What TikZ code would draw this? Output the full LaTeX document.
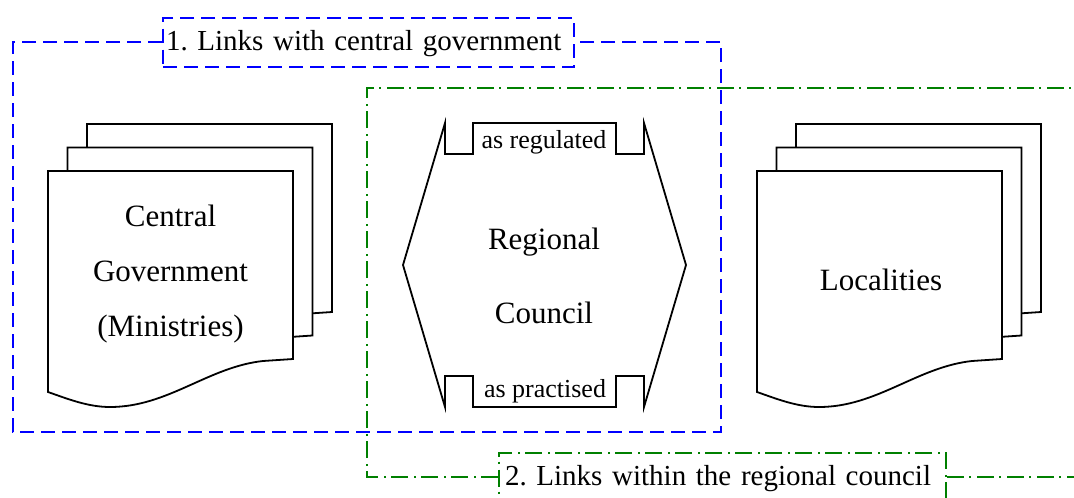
\documentclass[tikz,border=0pt]{standalone}
\usepackage{fontspec}
\setmainfont{Liberation Serif}
\frenchspacing
\definecolor{frameblue}{RGB}{0,0,255}
\definecolor{framegreen}{RGB}{0,128,0}
\tikzset{
  sheet/.style={draw=black, fill=white, line width=1.8pt, line join=miter},
  bigtext/.style={font=\fontsize{31}{55}\selectfont, align=center, inner sep=0pt},
  smalltext/.style={font=\fontsize{26}{30}\selectfont, inner sep=0pt},
  bluedash/.style={draw=frameblue, line width=2pt, dash pattern=on 14pt off 7pt},
  greendash/.style={draw=framegreen, line width=2pt, dash pattern=on 17pt off 5pt on 2pt off 6pt},
  framelabel/.style={font=\fontsize{29}{34}\selectfont\frenchspacing, align=left, inner sep=3pt, minimum height=49pt, anchor=west},
  docstack/.pic={
    \foreach \d in {2,1,0}{
      \path[sheet, shift={(19.5*\d,-23.5*\d)}] (0,0) -- (245,0) -- (245,188) -- (215,190)
        .. controls (160,196) and (120,236) .. (62,236)
        .. controls (40,236) and (20,228) .. (0,221) -- cycle;
    }
  }
}
\begin{document}
\begin{tikzpicture}[x=1pt,y=-1pt]
\useasboundingbox (0,0) rectangle (1074,498);
\clip (0,0) rectangle (1074,498);
% document stacks
\pic at (48,171) {docstack};
\pic at (757,171) {docstack};
\node[bigtext] (central) at (170.5,274) {Central\\Government\\(Ministries)};
\node[font=\fontsize{31}{36}\selectfont, inner sep=0pt, anchor=base] (localities) at (881,290) {Localities};
% regional council shape
\draw[sheet] (403,265) -- (445,123) -- (445,154) -- (473,154) -- (473,123) -- (616,123)
  -- (616,154) -- (644,154) -- (644,123) -- (686,265) -- (644,407) -- (644,376)
  -- (616,376) -- (616,407) -- (473,407) -- (473,376) -- (445,376) -- (445,407) -- cycle;
\node[bigtext, font=\fontsize{31}{74}\selectfont] (regional) at (544,276) {Regional\\Council};
\node[smalltext, anchor=base] (regulated) at (544,148) {as regulated};
\node[smalltext, anchor=base] (practised) at (545,397) {as practised};
% frame 1
\node[framelabel, bluedash, text width=405pt, text height=21pt, text depth=4pt] (lab1) at (162,42) {1. Links with central government};
\coordinate (b1) at (13,42);
\coordinate (b2) at (13,432);
\coordinate (b3) at (721,432);
\coordinate (b4) at (721,42);
\draw[bluedash] (lab1.west) -- (b1) -- (b2) -- (b3) -- (b4) -- (lab1.east);
% frame 2
\node[framelabel, greendash, text width=435pt, inner sep=6pt, text height=21pt, text depth=4pt] (lab2) at (498,477) {2. Links within the regional council};
\coordinate (g1) at (367,477);
\coordinate (g2) at (367,88);
\coordinate (g3) at (1085,88);
\coordinate (g4) at (1085,477);
\draw[greendash] (lab2.west) -- (g1) -- (g2) -- (g3);
\draw[greendash] (lab2.east) -- (g4);
\end{tikzpicture}
\end{document}
